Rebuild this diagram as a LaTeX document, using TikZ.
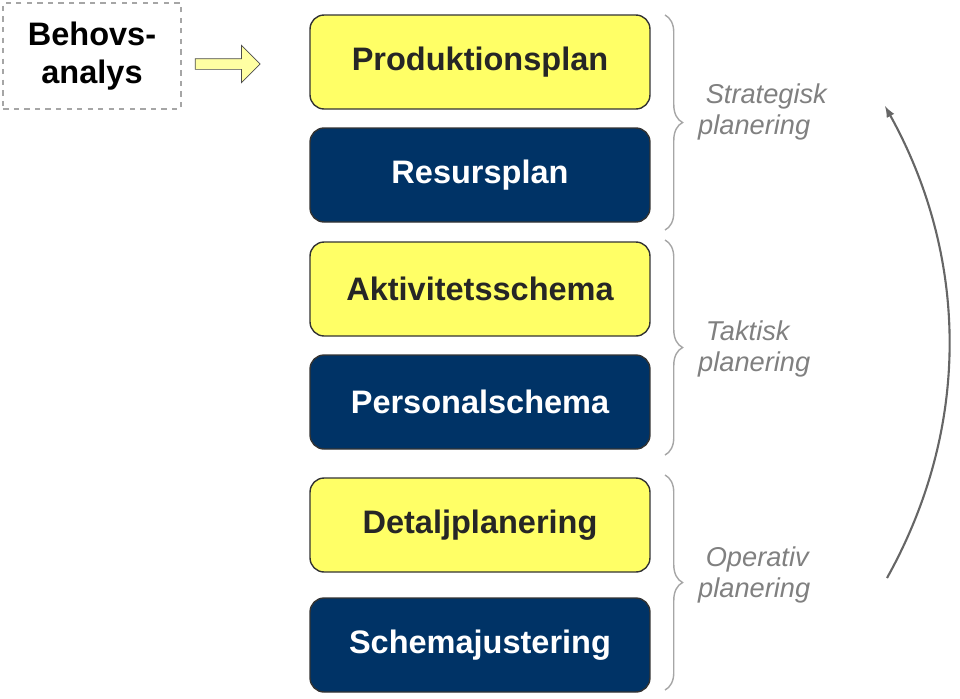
\documentclass[tikz,border=0pt]{standalone}
\usepackage{fontspec}
\setmainfont{Liberation Sans}
\usetikzlibrary{positioning,decorations.pathreplacing,shapes.arrows}
\definecolor{plangul}{HTML}{FFFF66}
\definecolor{planbla}{HTML}{003366}
\tikzset{
  plan/.style={draw=black!80,thick,rounded corners=8pt,minimum width=6.8cm,minimum height=1.88cm,font=\fontsize{18.5}{22}\selectfont\bfseries},
  gul/.style={plan,fill=plangul,text=black!85},
  bla/.style={plan,fill=planbla,text=white},
  niva/.style={text=black!50,font=\fontsize{15.5}{18}\selectfont\itshape,align=left,anchor=west},
  klammer/.style={draw=black!35,thick,decorate,decoration={brace,amplitude=10pt}}
}
\begin{document}
\begin{tikzpicture}[x=0.02cm,y=-0.02cm]
\useasboundingbox (0,0) rectangle (960,698);
\node (behov) [draw=black!35,dashed,very thick,minimum width=3.55cm,minimum height=2.12cm,align=center,font=\fontsize{18.5}{22}\selectfont\bfseries] at (92,56) {Behovs-\\analys};
\node (pil) [single arrow,draw=black!70,fill=plangul!60,minimum height=1.3cm,minimum width=0.75cm,single arrow head extend=3pt,inner sep=1pt] at (225,64) {};
\node (p1) [gul] at (480,62) {Produktionsplan};
\node (p2) [bla] at (480,175) {Resursplan};
\node (p3) [gul] at (480,289) {Aktivitetsschema};
\node (p4) [bla] at (480,402) {Personalschema};
\node (p5) [gul] at (480,525) {Detaljplanering};
\node (p6) [bla] at (480,645) {Schemajustering};
\draw[klammer] (665,15) -- (665,230);
\draw[klammer] (665,240) -- (665,455);
\draw[klammer] (665,475) -- (665,690);
\node (strat) [niva] at (692,112) {\ Strategisk\\planering};
\node (takt) [niva] at (692,349) {\ Taktisk\\planering};
\node (oper) [niva] at (692,575) {\ Operativ\\planering};
\coordinate (nere) at (887,578);
\coordinate (uppe) at (885,106);
\draw[black!60,very thick,-latex] (nere) .. controls (975,420) and (965,250) .. (uppe);
\end{tikzpicture}
\end{document}
